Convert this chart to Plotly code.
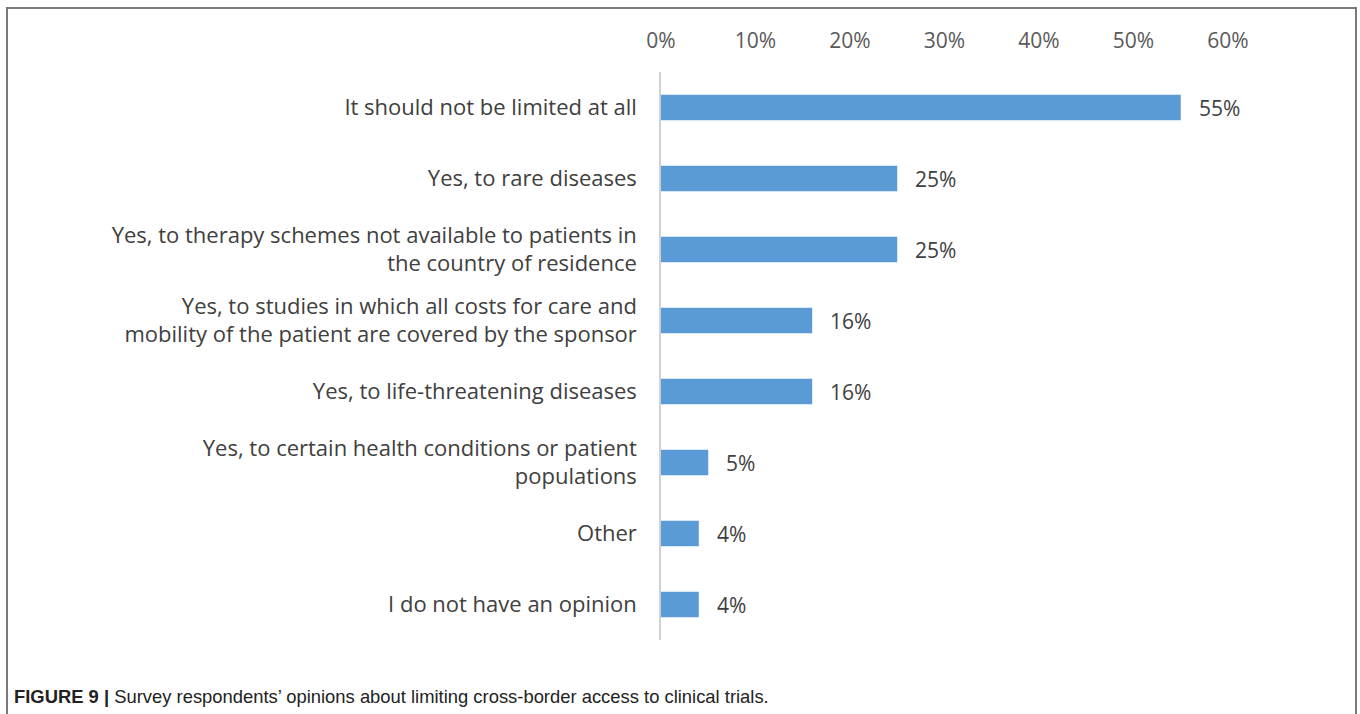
import plotly.graph_objects as go

# Survey answers, top to bottom, and the share of respondents for each
categories = [
    "It should not be limited at all",
    "Yes, to rare diseases",
    "Yes, to therapy schemes not available to patients in<br>the country of residence",
    "Yes, to studies in which all costs for care and<br>mobility of the patient are covered by the sponsor",
    "Yes, to life-threatening diseases",
    "Yes, to certain health conditions or patient<br>populations",
    "Other",
    "I do not have an opinion",
]
shares = [55, 25, 25, 16, 16, 5, 4, 4]
tick_values = [0, 10, 20, 30, 40, 50, 60]
tick_labels = ["0%", "10%", "20%", "30%", "40%", "50%", "60%"]

W, H = 1360, 714
L, R, T, B = 661, 132, 72, 74
pw, ph = W - L - R, H - T - B


def px_x(px):
    return (px - L) / pw


def px_y(py):
    return (H - B - py) / ph


LABEL_FONT = "Open Sans, Lato, sans-serif"
BAR_BLUE = "#5B9BD5"

fig = go.Figure()
fig.add_trace(go.Bar(
    x=shares,
    y=categories,
    orientation="h",
    marker=dict(color=BAR_BLUE, line=dict(width=0)),
    width=0.36,
    hoverinfo="x+y",
))

# value labels to the right of each bar
for cat, val in zip(categories, shares):
    fig.add_annotation(
        x=val, y=cat, xref="x", yref="y",
        text=f"{val}%", showarrow=False,
        xanchor="left", xshift=16,
        font=dict(family=LABEL_FONT, size=21, color="#404040"),
    )

# caption beneath the chart
fig.add_annotation(
    x=px_x(12), y=px_y(696), xref="paper", yref="paper",
    xanchor="left", yanchor="middle", showarrow=False,
    text="<b>FIGURE 9 |</b> Survey respondents’ opinions about limiting cross-border access to clinical trials.",
    font=dict(family="Liberation Sans, Arial, sans-serif", size=18.4, color="#222222"),
)

# outer frame
fig.add_shape(
    type="rect", xref="paper", yref="paper",
    x0=px_x(7), x1=px_x(1356), y0=px_y(730), y1=px_y(8),
    line=dict(color="#7a7a7a", width=2), fillcolor="rgba(0,0,0,0)", layer="below",
)

fig.update_layout(
    width=W, height=H,
    margin=dict(l=L, r=R, t=T, b=B, autoexpand=False),
    paper_bgcolor="white", plot_bgcolor="white",
    showlegend=False,
    bargap=0.64,
    xaxis=dict(
        side="top", range=[0, 60], tickvals=tick_values, ticktext=tick_labels,
        showgrid=False, zeroline=False, showline=False, ticks="",
        ticklabelstandoff=19,
        tickfont=dict(family=LABEL_FONT, size=21, color="#595959"),
        fixedrange=True,
    ),
    yaxis=dict(
        autorange="reversed", showgrid=False, zeroline=False,
        showline=True, linecolor="#d0d0d0", linewidth=1.5, ticks="",
        ticklabelstandoff=18,
        tickfont=dict(family=LABEL_FONT, size=22, color="#404040"),
        fixedrange=True,
    ),
)

fig.write_html("out.html")
